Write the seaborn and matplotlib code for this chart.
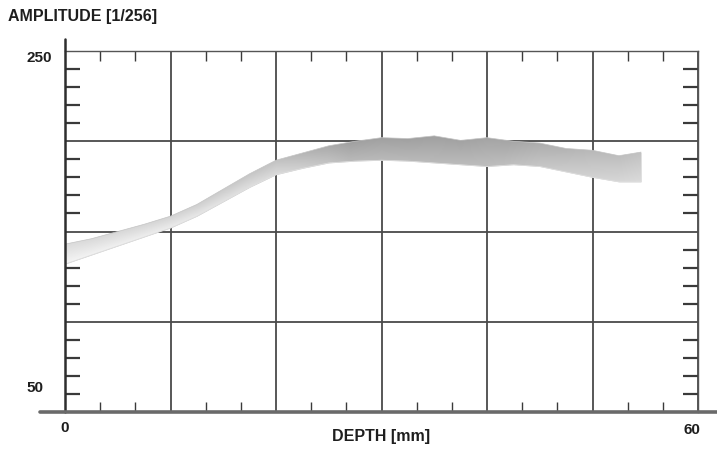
import matplotlib
matplotlib.use("Agg")
import matplotlib.pyplot as plt
import numpy as np
import pandas as pd
import seaborn as sns
from matplotlib.lines import Line2D
from matplotlib.ticker import MultipleLocator

# depth [mm] and amplitude band bounds
depth = [0, 2.5, 5, 7.5, 10, 12.5, 15, 17.5, 20, 22.5, 25, 27.5, 30,
         32.5, 35, 37.5, 40, 42.5, 45, 47.5, 50, 52.5, 54.6]
upper = [143, 146, 150, 154, 158.5, 165, 173.5, 182, 189.5, 193.5, 197.5, 200, 202,
         201.5, 203, 200.5, 202, 200, 199, 196, 195, 192, 194]
lower = [132, 137, 142, 147, 152, 158.5, 166.5, 174.5, 181.5, 185, 188, 189, 189.5,
         189, 188, 187, 186, 187, 186, 183, 180, 177.5, 177.5]

title_text = "AMPLITUDE [1/256]"
xlabel_text = "DEPTH [mm]"

sns.set_style("white")
plt.rcParams["font.family"] = ["Liberation Sans", "DejaVu Sans"]

fig, ax = plt.subplots(figsize=(7.17, 4.49), dpi=100)
fig.subplots_adjust(left=0.0907, right=0.9735, bottom=0.0824, top=0.8864)

# band
poly = ax.fill_between(depth, lower, upper, color="#c8c8c8", lw=0, zorder=2)

# gray shading: light at the ends, darker in the middle, darker on top
gx = np.linspace(0, depth[-1], 400)
gy = np.linspace(125, 210, 200)
base = np.interp(gx, [0, 10, 20, 27, 35, 42, 48, 54.6],
                 [0.90, 0.87, 0.80, 0.67, 0.67, 0.69, 0.75, 0.80])
lo = np.interp(gx, depth, lower)
hi = np.interp(gx, depth, upper)
X, Y = np.meshgrid(gx, gy)
t = np.clip((Y - lo[None, :]) / (hi - lo)[None, :], 0, 1)
level = np.clip(base[None, :] + 0.10 * (1 - t) - 0.04, 0, 1)
rgb = np.dstack([level, level, level])
im = ax.imshow(rgb, extent=[0, depth[-1], 125, 210], origin="lower",
               aspect="auto", zorder=3, interpolation="bilinear")
im.set_clip_path(poly.get_paths()[0], transform=ax.transData)

frame = pd.DataFrame({
    "depth": depth * 2,
    "amp": upper + lower,
    "bound": ["upper"] * len(depth) + ["lower"] * len(depth),
})
sns.lineplot(data=frame, x="depth", y="amp", hue="bound",
             palette=["#c4c4c4", "#e2e2e2"], linewidth=0.5,
             legend=False, ax=ax, zorder=4)

ax.set_xlim(0, 60)
ax.set_ylim(50, 250)
ax.set_xlabel("")
ax.set_ylabel("")

ax.xaxis.set_major_locator(MultipleLocator(10))
ax.yaxis.set_major_locator(MultipleLocator(50))
ax.xaxis.set_minor_locator(MultipleLocator(10 / 3))
ax.yaxis.set_minor_locator(MultipleLocator(10))
ax.set_axisbelow(True)
ax.grid(True, which="major", color="#4a4a4a", lw=1.3, zorder=1)

ax.tick_params(which="major", length=0, labelleft=False, labelbottom=False)
ax.tick_params(axis="y", which="minor", direction="in", left=True,
               right=True, length=11, width=1.6, color="#3a3a3a")
ax.tick_params(axis="x", which="minor", direction="in", top=True,
               bottom=True, length=7, width=1.0, color="#3a3a3a")

for side in ["top", "right"]:
    ax.spines[side].set_color("#555555")
    ax.spines[side].set_linewidth(1.0)
ax.spines["left"].set_visible(False)
ax.spines["bottom"].set_visible(False)

# long axis lines that run past the plot frame
fig.add_artist(Line2D([0.0907, 0.0907], [0.0824, 0.913], color="#2e2e2e",
                      lw=1.8, transform=fig.transFigure))
fig.add_artist(Line2D([0.056, 1.0], [0.0824, 0.0824], color="#6a6a6a",
                      lw=2.6, transform=fig.transFigure))

fig.text(8 / 717, 1 - 17 / 449, title_text, ha="left", va="center",
         fontsize=11.5, fontweight="bold", color="#1e1e1e")
fig.text(39 / 717, 1 - 58 / 449, "250", ha="center", va="center",
         fontsize=11, fontweight="bold", color="#1e1e1e")
fig.text(35 / 717, 1 - 388 / 449, "50", ha="center", va="center",
         fontsize=11, fontweight="bold", color="#1e1e1e")
fig.text(65 / 717, 1 - 428 / 449, "0", ha="center", va="center",
         fontsize=11, fontweight="bold", color="#1e1e1e")
fig.text(692 / 717, 1 - 430 / 449, "60", ha="center", va="center",
         fontsize=11, fontweight="bold", color="#1e1e1e")
fig.text(381 / 717, 1 - 437 / 449, xlabel_text, ha="center", va="center",
         fontsize=11.5, fontweight="bold", color="#1e1e1e")

fig.savefig("out.png", dpi=100, facecolor="white")
